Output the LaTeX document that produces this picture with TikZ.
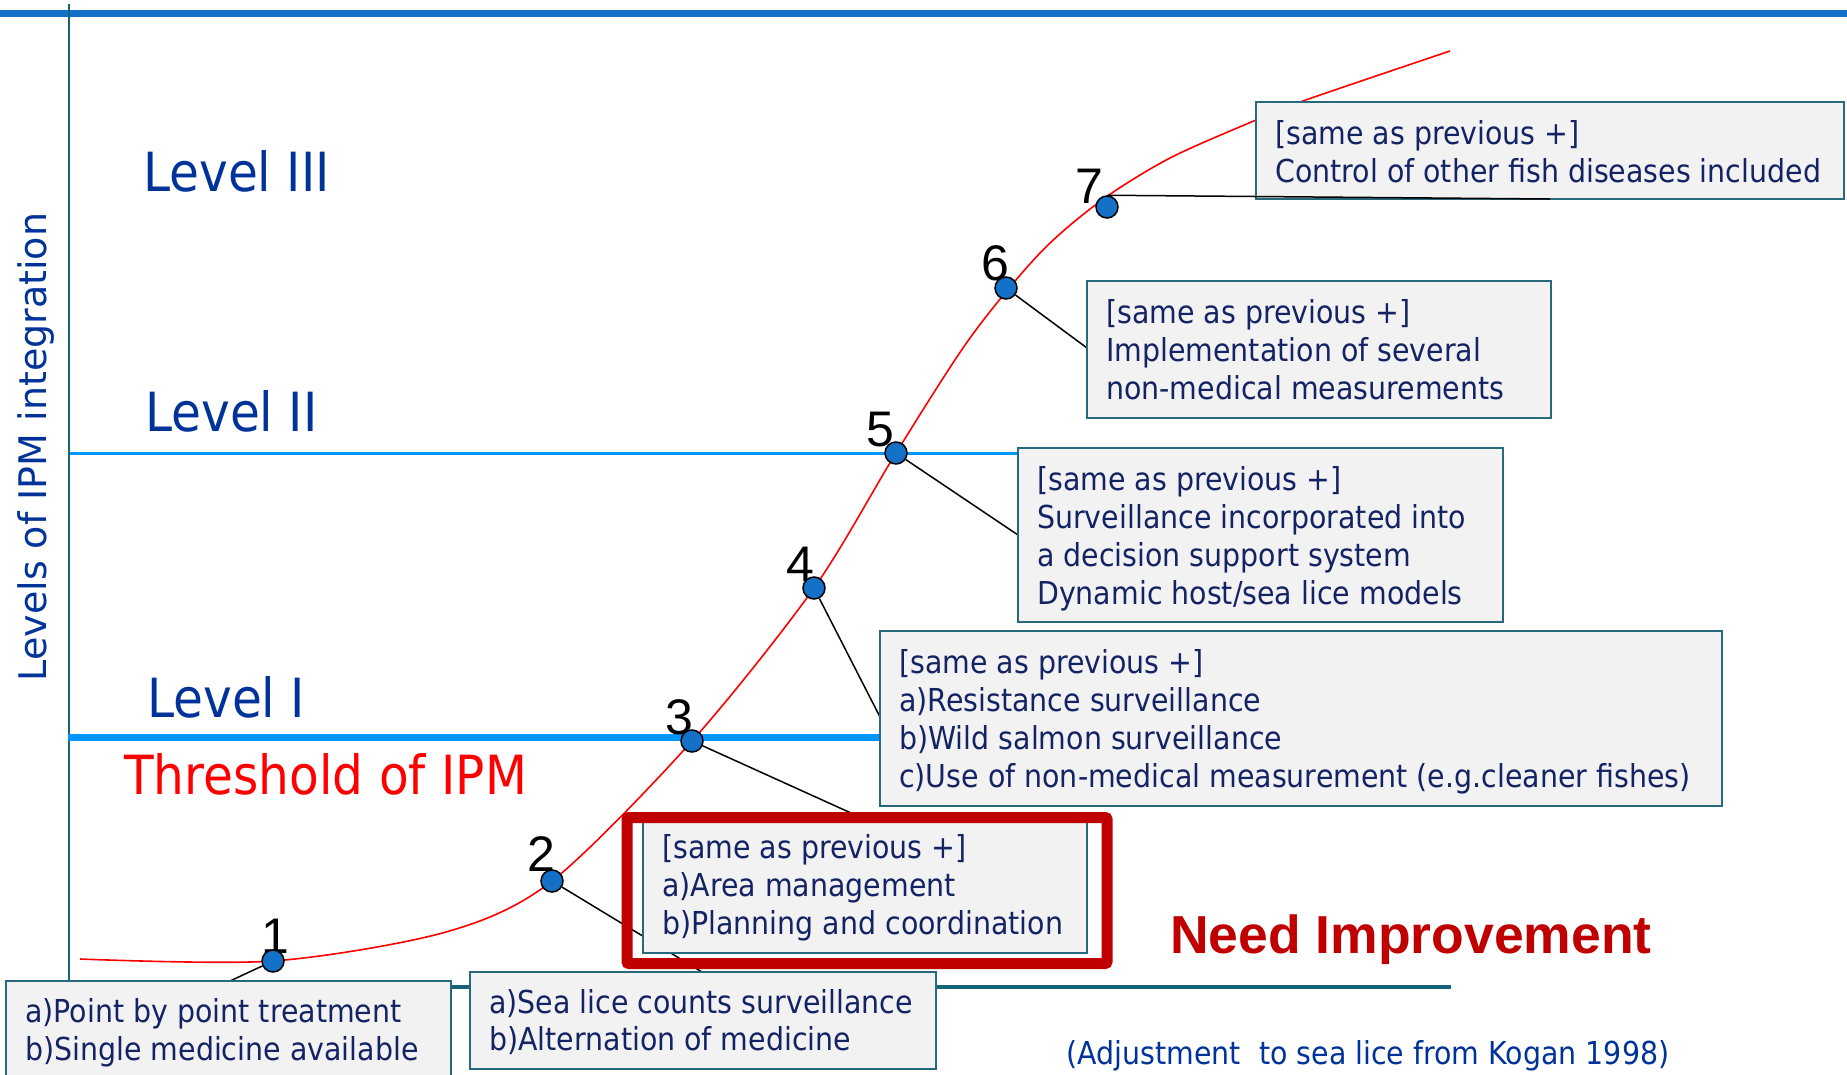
\documentclass[tikz,border=0pt]{standalone}
\usepackage{fontspec}
\setmainfont[FakeStretch=0.9]{DejaVu Sans}
\newfontfamily\axisfont{DejaVu Sans}
\newfontfamily\arialfont{Liberation Sans}
\definecolor{topblue}{RGB}{21,113,200}
\definecolor{lvlblue}{RGB}{0,150,255}
\definecolor{axisteal}{RGB}{20,100,120}
\definecolor{navy}{RGB}{20,35,100}
\definecolor{lvltext}{RGB}{0,51,153}
\definecolor{boxfill}{RGB}{242,242,242}
\definecolor{boxedge}{RGB}{40,105,125}
\definecolor{darkred}{RGB}{192,0,0}
\definecolor{ptblue}{RGB}{21,113,200}
\newcommand{\fstrut}{\rule{0pt}{30pt}}
\begin{document}
\begin{tikzpicture}[x=1pt,y=-1pt,
  box/.style={draw=boxedge, line width=2pt, fill=boxfill, anchor=north west, inner sep=0pt, outer sep=0pt},
  boxtext/.style={anchor=north west, inner sep=0pt, align=left, text=navy, font=\fontsize{31.6}{38}\selectfont},
  num/.style={anchor=base, inner sep=0pt, font=\arialfont\fontsize{50}{50}\selectfont},
  ipt/.style={circle, draw=black, line width=1.5pt, fill=ptblue, minimum size=22pt, inner sep=0pt},
  conn/.style={draw=black, line width=1.5pt},
  lvl/.style={anchor=base west, inner sep=0pt, text=lvltext, font=\fontsize{54}{54}\selectfont}
]
\useasboundingbox (0,0) rectangle (1847,1074);
% frame lines
\draw[topblue, line width=7pt] (0,13) -- (1847,13);
\draw[axisteal, line width=2pt] (69,4) -- (69,1074);
\draw[axisteal, line width=3.5pt] (69,987) -- (1451,987);
\draw[lvlblue, line width=3pt] (70,453) -- (1018,453);
\draw[lvlblue, line width=7pt] (68,737) -- (880,737);
% axis label
\node[rotate=90, text=lvltext, font=\axisfont\fontsize{38}{38}\selectfont, inner sep=0pt] (ylab) at (36,447) {Levels of IPM integration};
% level labels
\node[lvl] (l3) at (143,191) {Level III};
\node[lvl] (l2) at (145,431) {Level II};
\node[lvl] (l1) at (147,717) {Level I};
\node[lvl, text=red] (thr) at (124,794) {Threshold of IPM};
% curve
\draw[red, line width=1.6pt] plot[smooth, tension=0.5] coordinates {(80,959) (273,961) (446,932) (552,881) (692,741) (814,588) (896,453) (970,338) (1040,253) (1102,200) (1170,158) (1256,120) (1300,102) (1450,51)};
% numbers
\node[num] (n1) at (275,953) {1};
\node[num] (n2) at (541,871) {2};
\node[num] (n3) at (679,734) {3};
\node[num] (n4) at (800,581) {4};
\node[num] (n5) at (880,446) {5};
\node[num] (n6) at (995,280) {6};
\node[num] (n7) at (1089,203) {7};
% points
\node[ipt] (p1) at (273,961) {};
\node[ipt] (p2) at (552,881) {};
\node[ipt] (p3) at (692,741) {};
\node[ipt] (p4) at (814,588) {};
\node[ipt] (p5) at (896,453) {};
\node[ipt] (p6) at (1006,288) {};
\node[ipt] (p7) at (1107,207) {};
% connector ends
\coordinate (c1) at (230,981);
\coordinate (c2) at (702,972);
\coordinate (c3) at (851,813);
\coordinate (c4) at (880,717);
\coordinate (c5) at (1018,535);
\coordinate (c6) at (1087,348);
\coordinate (c7) at (1550,199);
\draw[conn] (p1) -- (c1);
\draw[conn] (p2) -- (c2);
\draw[conn] (p3) -- (c3);
\draw[conn] (p4) -- (c4);
\draw[conn] (p5) -- (c5);
\draw[conn] (p6) -- (c6);
% boxes
\node[box, minimum width=588pt, minimum height=97pt] (b7) at (1256,102) {};
\node[boxtext] (t7) at ([shift={(19,12)}]b7.north west) {\fstrut[same as previous +]\\Control of other fish diseases included};
\node[box, minimum width=464pt, minimum height=137pt] (b6) at (1087,281) {};
\node[boxtext] (t6) at ([shift={(19,12)}]b6.north west) {\fstrut[same as previous +]\\Implementation of several\\non-medical measurements};
\node[box, minimum width=485pt, minimum height=174pt] (b5) at (1018,448) {};
\node[boxtext] (t5) at ([shift={(19,12)}]b5.north west) {\fstrut[same as previous +]\\Surveillance incorporated into\\a decision support system\\Dynamic host/sea lice models};
\node[box, minimum width=842pt, minimum height=175pt] (b4) at (880,631) {};
\node[boxtext] (t4) at ([shift={(19,12)}]b4.north west) {\fstrut[same as previous +]\\a)Resistance surveillance\\b)Wild salmon surveillance\\c)Use of non-medical measurement (e.g.cleaner fishes)};
\node[box, minimum width=444pt, minimum height=131pt] (b3) at (643,822) {};
\node[boxtext] (t3) at ([shift={(19,6)}]b3.north west) {\fstrut[same as previous +]\\a)Area management\\b)Planning and coordination};
\node[box, minimum width=466pt, minimum height=97pt] (b2) at (470,972) {};
\node[boxtext, font=\fontsize{31.6}{37}\selectfont] (t2) at ([shift={(19,11)}]b2.north west) {\fstrut a)Sea lice counts surveillance\\b)Alternation of medicine};
\node[box, minimum width=445pt, minimum height=110pt] (b1) at (6,981) {};
\node[boxtext, font=\fontsize{31.6}{38}\selectfont] (t1) at ([shift={(19,11)}]b1.north west) {\fstrut a)Point by point treatment\\b)Single medicine available};
% red frame
\node[draw=darkred, line width=11pt, rounded corners=2pt, minimum width=480pt, minimum height=146pt, anchor=north west, inner sep=0pt, outer sep=0pt] (r3) at (627,817.5) {};
% point 7 connector over its box
\draw[conn] (p7.north) -- (c7);
% notes
\node[anchor=base west, inner sep=0pt, text=darkred, font=\arialfont\bfseries\fontsize{53.5}{53.5}\selectfont] (need) at (1170,953) {Need Improvement};
\node[inner sep=0pt, text=lvltext, font=\fontsize{31.6}{38}\selectfont] (src) at (1368,1056) {(Adjustment\ \ to sea lice from Kogan 1998)};
\end{tikzpicture}
\end{document}
